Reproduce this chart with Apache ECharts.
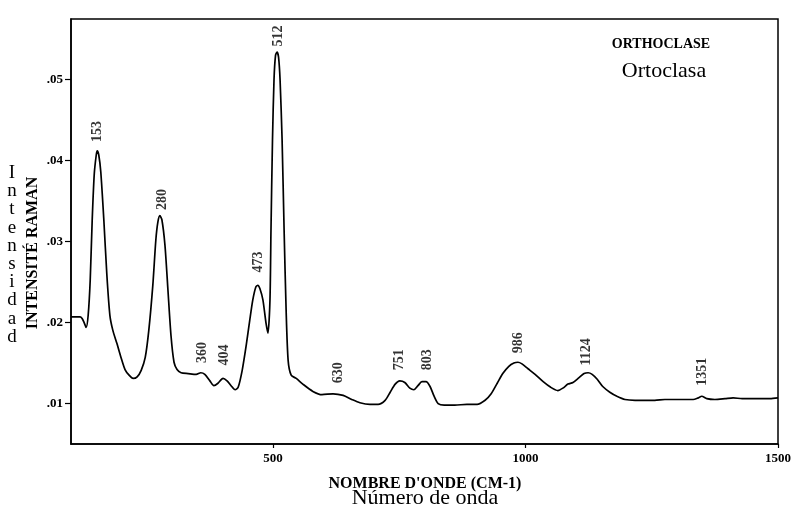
<!DOCTYPE html>
<html><head><meta charset="utf-8">
<script src="https://cdn.jsdelivr.net/npm/echarts@6/dist/echarts.min.js"></script>
<style>html,body{margin:0;padding:0;background:#fff}#c{width:800px;height:508px}</style>
</head><body><div id="c"></div>
<script>
// Raman spectrum: wavenumber (cm-1) and intensity
const wavenumbers = [100,118,122,126,130,134,138,142,146,150,152,155,159,165,171,177,183,191,199,207,215,223,231,239,247,254,262,268,272,276,280,286,292,298,304,310,318,332,348,357,365,375,383,391,401,409,417,425,431,439,447,454,460,466,470,474,480,486,490,494,496,499,502,505,508,511,514,518,522,526,530,536,546,559,579,597,619,639,656,672,692,708,722,732,742,751,761,771,779,787,795,803,811,819,827,839,860,884,904,920,932,944,955,967,977,985,993,1005,1019,1035,1050,1064,1074,1084,1094,1106,1116,1124,1132,1142,1153,1167,1181,1197,1217,1237,1256,1276,1296,1316,1332,1342,1349,1359,1375,1395,1411,1429,1448,1468,1484,1500];
const intensity = [0.0207,0.0207,0.0205,0.0200,0.0194,0.0209,0.0252,0.0327,0.0383,0.0407,0.0412,0.0407,0.0386,0.0327,0.0259,0.0209,0.0190,0.0174,0.0157,0.0142,0.0135,0.0131,0.0133,0.0141,0.0157,0.0190,0.0246,0.0302,0.0324,0.0332,0.0327,0.0296,0.0240,0.0184,0.0151,0.0142,0.0138,0.0137,0.0136,0.0138,0.0136,0.0128,0.0122,0.0125,0.0131,0.0128,0.0122,0.0117,0.0120,0.0141,0.0172,0.0203,0.0228,0.0244,0.0246,0.0242,0.0228,0.0200,0.0187,0.0228,0.0314,0.0426,0.0500,0.0530,0.0534,0.0528,0.0500,0.0426,0.0314,0.0215,0.0153,0.0135,0.0131,0.0124,0.0115,0.0111,0.0112,0.0110,0.0105,0.0101,0.0099,0.0099,0.0104,0.0114,0.0124,0.0128,0.0126,0.0119,0.0117,0.0122,0.0127,0.0127,0.0121,0.0109,0.0100,0.0098,0.0098,0.0099,0.0099,0.0104,0.0112,0.0125,0.0137,0.0146,0.0150,0.0151,0.0149,0.0143,0.0136,0.0127,0.0120,0.0116,0.0119,0.0124,0.0126,0.0132,0.0137,0.0138,0.0136,0.0130,0.0121,0.0114,0.0109,0.0105,0.0104,0.0104,0.0104,0.0105,0.0105,0.0105,0.0105,0.0107,0.0109,0.0106,0.0105,0.0106,0.0107,0.0106,0.0106,0.0106,0.0106,0.0107];
// Peak annotations: label text, position (cm-1), intensity at label base
const peakLabels = ['153','280','360','404','473','512','630','751','803','986','1124','1351'];
const peakWn = [153,280,361,404,472,510,630,750,805,985,1120,1350];
const peakLabelBase = [0.0423,0.0339,0.0150,0.0147,0.0262,0.0541,0.0125,0.0141,0.0141,0.0162,0.0147,0.0122];
const xTicks = [500,1000,1500];
const yTicks = [0.01,0.02,0.03,0.04,0.05];

const serif = '"Liberation Serif", "Times New Roman", serif';
const chart = echarts.init(document.getElementById('c'));
chart.setOption({
  animation:false,
  backgroundColor:'#fff',
  grid:{left:71,right:22,top:19,bottom:64,show:true,borderColor:'#000',borderWidth:1.5,containLabel:false},
  xAxis:{type:'value',min:100,max:1500,
    axisLine:{show:true,lineStyle:{color:'#000',width:1.5}},
    axisTick:{show:true,customValues:xTicks,length:4,lineStyle:{color:'#000',width:1.2}},
    axisLabel:{customValues:xTicks,color:'#000',fontFamily:serif,fontWeight:'bold',fontSize:13,margin:8,
      formatter:v=>String(v)},
    splitLine:{show:false}},
  yAxis:{type:'value',min:0.005,max:0.0575,
    axisLine:{show:true,lineStyle:{color:'#000',width:1.5}},
    axisTick:{show:true,customValues:yTicks,length:6,lineStyle:{color:'#000',width:1.2}},
    axisLabel:{customValues:yTicks,color:'#000',fontFamily:serif,fontWeight:'bold',fontSize:13,margin:8,
      formatter:v=>v.toFixed(2).replace(/^0/,'')},
    splitLine:{show:false}},
  series:[
    {type:'line',data:wavenumbers.map((w,i)=>[w,intensity[i]]),showSymbol:false,smooth:0.25,
     lineStyle:{color:'#000',width:1.7},silent:true},
    {type:'scatter',symbolSize:0,silent:true,
     data:peakWn.map((w,i)=>({value:[w,peakLabelBase[i]],name:peakLabels[i]})),
     label:{show:true,position:'top',distance:0,rotate:90,align:'left',verticalAlign:'middle',
       formatter:p=>p.name,color:'#000',fontFamily:serif,fontWeight:'bold',fontSize:14}}
  ],
  graphic:[
    {type:'text',style:{text:'ORTHOCLASE',font:'bold 14px '+serif,fill:'#000',x:661,y:44,align:'center',verticalAlign:'middle'}},
    {type:'text',style:{text:'Ortoclasa',font:'22px '+serif,fill:'#000',x:664,y:71,align:'center',verticalAlign:'middle'}},
    {type:'text',rotation:Math.PI/2,x:33,y:253,style:{text:'INTENSITÉ RAMAN',font:'bold 16px '+serif,fill:'#000',align:'center',verticalAlign:'middle'}},
    {type:'text',style:{text:'I\nn\nt\ne\nn\ns\ni\nd\na\nd',font:'19px '+serif,lineHeight:18.2,fill:'#000',x:12,y:255,align:'center',verticalAlign:'middle'}},
    {type:'text',style:{text:"NOMBRE D'ONDE (CM-1)",font:'bold 16px '+serif,fill:'#000',x:425,y:484,align:'center',verticalAlign:'middle'}},
    {type:'text',style:{text:'Número de onda',font:'22px '+serif,fill:'#000',x:425,y:498,align:'center',verticalAlign:'middle'}}
  ]
});
</script></body></html>
